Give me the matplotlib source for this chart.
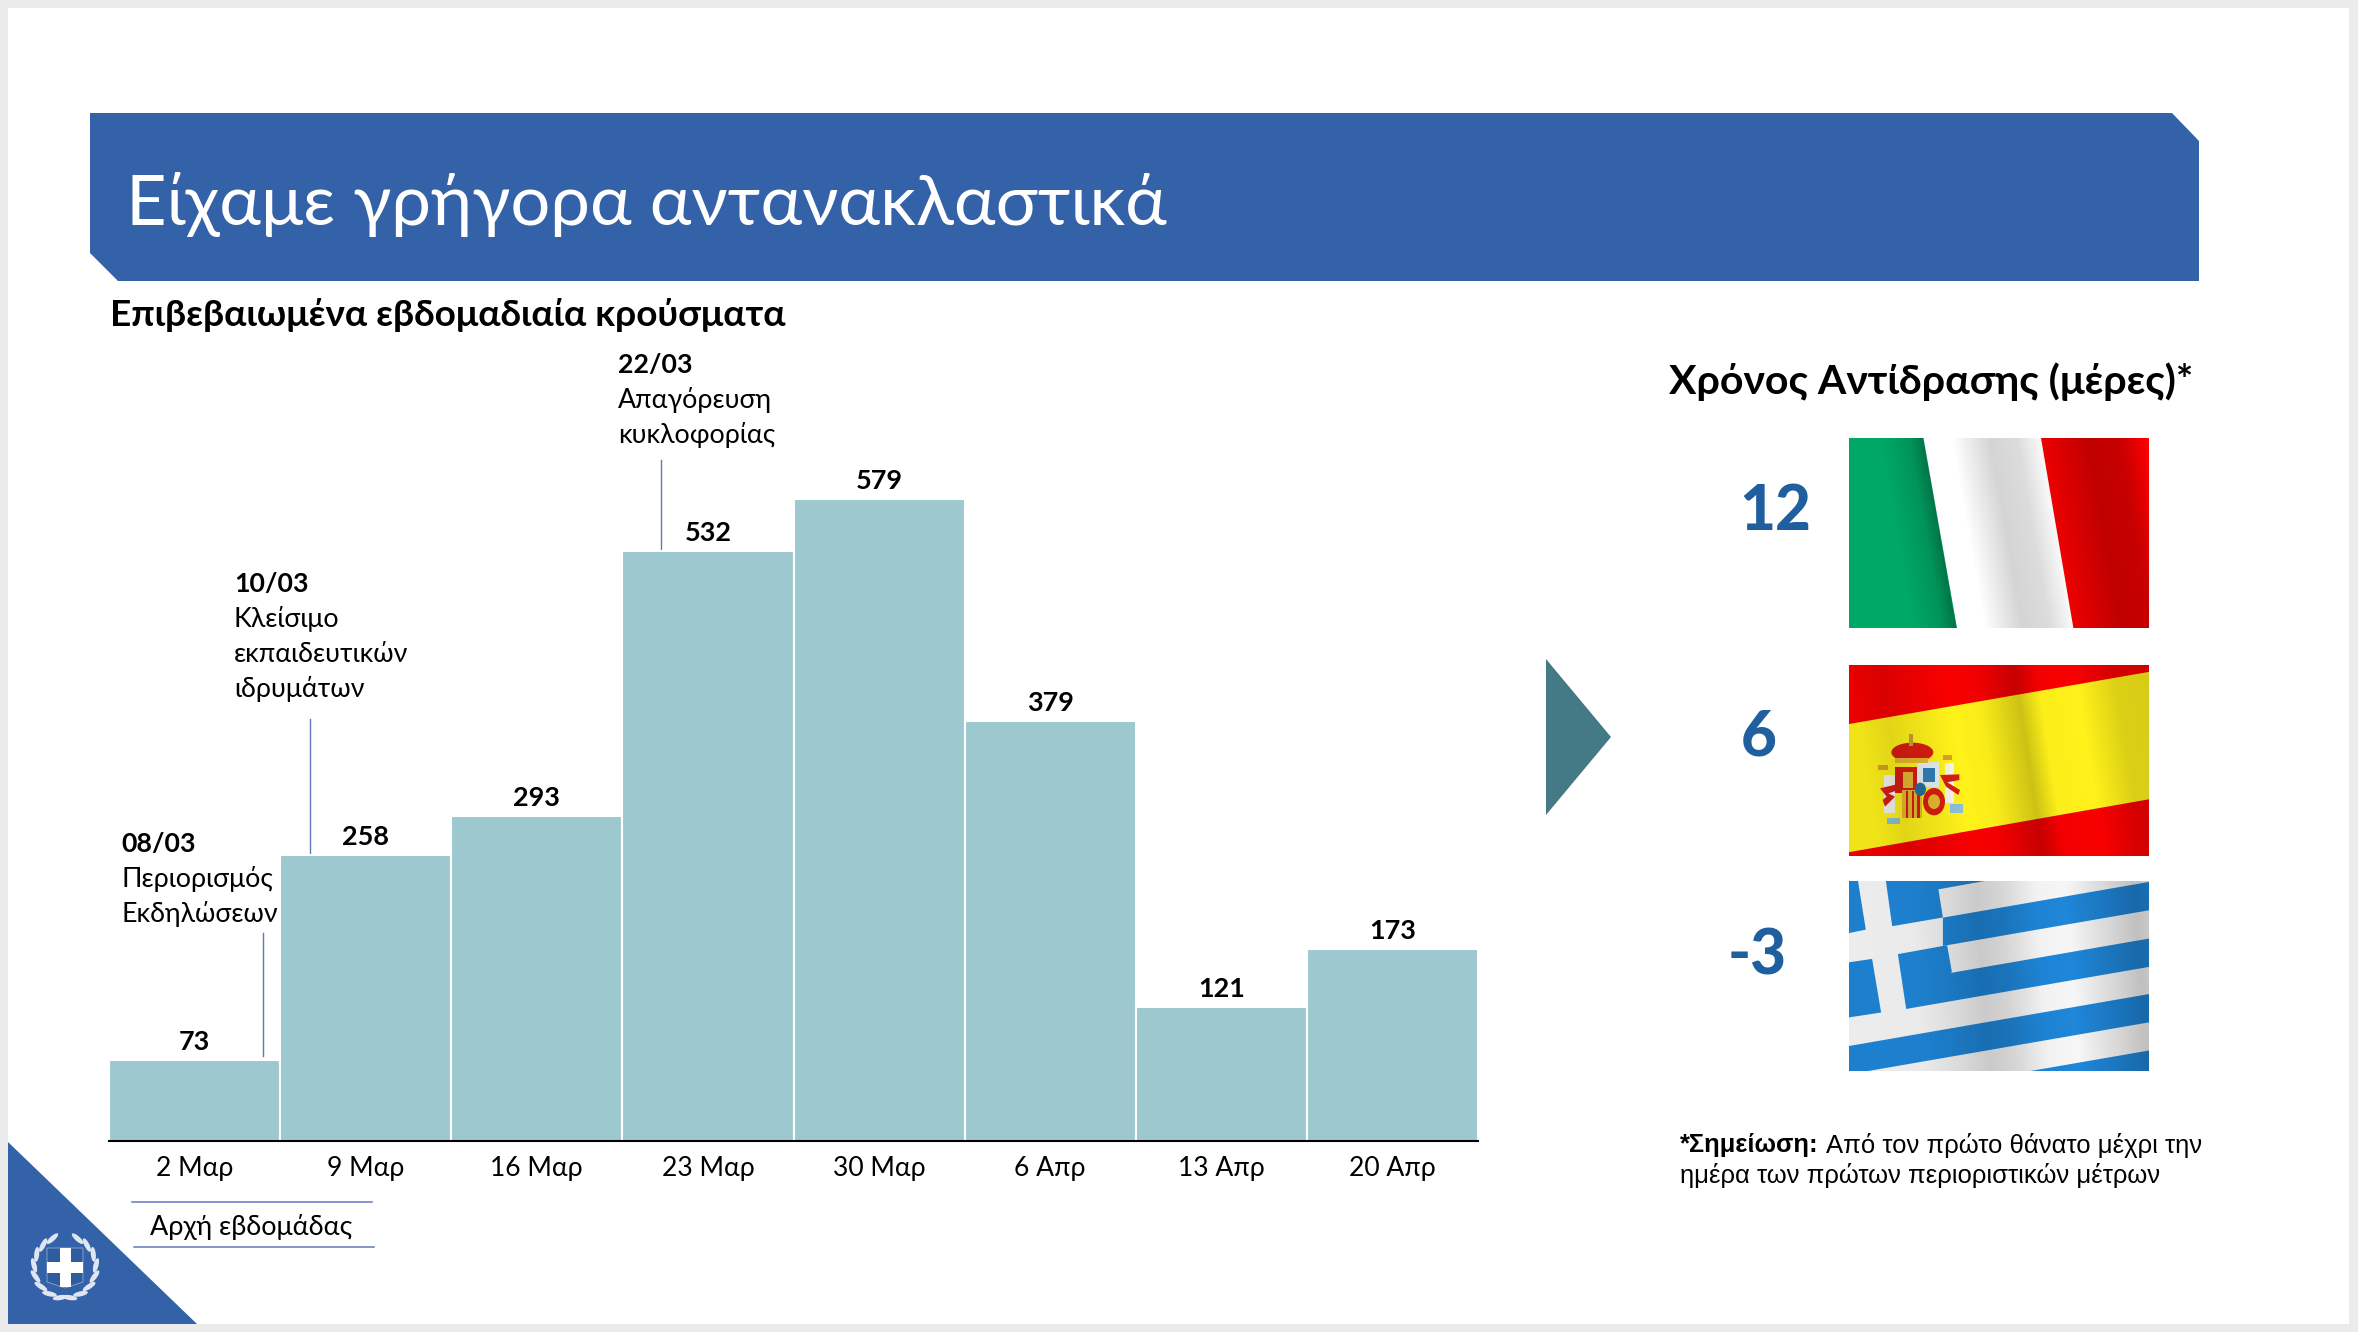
import numpy as np
import matplotlib
matplotlib.use("Agg")
import matplotlib.pyplot as plt
from matplotlib.patches import Polygon, Rectangle, Ellipse

# -----------------------------
# Data
# -----------------------------
weeks = ["2 Μαρ", "9 Μαρ", "16 Μαρ", "23 Μαρ", "30 Μαρ", "6 Απρ", "13 Απρ", "20 Απρ"]
cases = [73, 258, 293, 532, 579, 379, 121, 173]
reaction_days = ["12", "6", "-3"]

W, H = 2358, 1332
BLUE = "#3462a8"
TEAL = "#9ec8cf"
NUM_BLUE = "#1f5f9f"
LINE = "#6078bc"
FONT = "Lato"


def fs(px):
    # pixel height to points at dpi 100
    return px * 72 / 100


plt.rcParams["font.family"] = [FONT, "Noto Sans", "DejaVu Sans"]

fig = plt.figure(figsize=(W / 100, H / 100), dpi=100, facecolor="#ebebeb")

# -----------------------------
# Slide background (pixel coordinates)
# -----------------------------
bg = fig.add_axes([0, 0, 1, 1])
bg.set_xlim(0, W)
bg.set_ylim(H, 0)
bg.axis("off")
bg.add_patch(Rectangle((8, 8), 2341, 1316, fc="white", ec="none"))
bg.add_patch(Polygon([(90, 113), (2172, 113), (2199, 141), (2199, 281), (118, 281), (90, 253)],
                     fc=BLUE, ec="none"))
bg.add_patch(Polygon([(8, 1142), (197, 1324), (8, 1324)], fc=BLUE, ec="none"))
bg.add_patch(Polygon([(1546, 659), (1611, 737), (1546, 815)], fc="#447a86", ec="none"))

bg.text(126, 225, "Είχαμε γρήγορα αντανακλαστικά", color="white", fontsize=fs(70.4), va="baseline")
bg.text(110, 326, "Επιβεβαιωμένα εβδομαδιαία κρούσματα", color="black", fontsize=fs(37),
        fontweight="bold", va="baseline")

# measure annotations
notes = [
    (121, [844, 879, 914], ["08/03", "Περιορισμός", "Εκδηλώσεων"], (262.5, 933, 1056)),
    (234, [584, 619, 654, 689], ["10/03", "Κλείσιμο", "εκπαιδευτικών", "ιδρυμάτων"], (310, 719, 854)),
    (618, [365, 400, 435], ["22/03", "Απαγόρευση", "κυκλοφορίας"], (661, 460, 550)),
]
for x, ys, lines, (lx, y0, y1) in notes:
    for i, (y, s) in enumerate(zip(ys, lines)):
        bg.text(x, y, s, fontsize=fs(26.8), va="center", color="black",
                fontweight="bold" if i == 0 else "normal")
    bg.plot([lx, lx], [y0, y1], color=LINE, lw=1)

# legend-like label under the axis
bg.plot([132, 372], [1202, 1202], color=LINE, lw=1.1)
bg.plot([134, 374], [1247, 1247], color=LINE, lw=1.1)
bg.text(251, 1227, "Αρχή εβδομάδας", fontsize=fs(27), ha="center", va="center")

# right panel
bg.text(1931, 382, "Χρόνος Αντίδρασης (μέρες)*", fontsize=fs(41), fontweight="bold",
        ha="center", va="center")
for x, y, s in zip([1775, 1759, 1757], [511, 737, 956], reaction_days):
    bg.text(x, y, s, color=NUM_BLUE, fontsize=fs(62), fontweight="black", ha="center", va="center")

bg.text(1680, 1145, "*Σημείωση:", family="Liberation Sans", fontweight="bold", fontsize=fs(25.5), va="center")
bg.text(1826, 1145, "Από τον πρώτο θάνατο μέχρι την", family="Liberation Sans", fontsize=fs(25.6), va="center")
bg.text(1680, 1176, "ημέρα των πρώτων περιοριστικών μέτρων", family="Liberation Sans",
        fontsize=fs(25.6), va="center")

# emblem
cx, cy = 65, 1267
bg.add_patch(Polygon([(47, 1248), (83, 1248), (83, 1282), (65, 1288), (47, 1282)],
                     fc="#2f5c9f", ec="#8fa6cf", lw=0.6))
bg.add_patch(Rectangle((60, 1248), 11, 39, fc="white", ec="none"))
bg.add_patch(Rectangle((47, 1262), 36, 11, fc="white", ec="none"))
for side in [-1, 1]:
    for k in range(8):
        deg = -90 + side * (24 + k * 21)
        a = np.deg2rad(deg)
        bg.add_patch(Ellipse((cx + 31 * np.cos(a), cy + 31 * np.sin(a)), 15, 5,
                             angle=deg + 90 + side * 18, fc="#dfe6f2", ec="none"))

# -----------------------------
# Bar chart
# -----------------------------
ax = fig.add_axes([109 / W, (H - 1141) / H, 1369 / W, 642 / H])
ax.patch.set_alpha(0)
bars = ax.bar(range(len(cases)), cases, width=1, color=TEAL, edgecolor="white", linewidth=1.5)
ax.set_xlim(-0.5, 7.5)
ax.set_ylim(0, 579)
ax.bar_label(bars, fontweight="bold", fontsize=fs(27), padding=4.5, color="black")
ax.set_xticks(range(len(weeks)))
ax.set_xticklabels(weeks, fontsize=fs(26.5))
ax.tick_params(axis="x", length=0, pad=11)
ax.set_yticks([])
for side in ["top", "left", "right"]:
    ax.spines[side].set_visible(False)
ax.spines["bottom"].set_linewidth(1.5)


# -----------------------------
# Flags
# -----------------------------
def flag_axes(y0, y1):
    a = fig.add_axes([1849 / W, (H - y1) / H, 300 / W, (y1 - y0) / H])
    a.set_xlim(0, 1)
    a.set_ylim(1, 0)
    a.axis("off")
    return a


def shade(a, stops, levels, skew):
    # soft dark folds of the cloth
    u, v = np.meshgrid(np.linspace(0, 1, 300), np.linspace(0, 1, 190))
    rgba = np.zeros(u.shape + (4,))
    rgba[..., 3] = np.interp(u - skew * v, stops, levels)
    a.imshow(rgba, extent=(0, 1, 1, 0), aspect="auto", interpolation="bilinear", zorder=5)
    a.set_xlim(0, 1)
    a.set_ylim(1, 0)


def crest_pts(pts):
    return [((11 + x / 3) / 300, (60 + y / 3) / 191) for x, y in pts]


def crest_box(a, x0, y0, x1, y1, color):
    a.add_patch(Polygon(crest_pts([(x0, y0), (x1, y0), (x1, y1), (x0, y1)]), fc=color, ec="none"))


def crest_oval(a, x, y, w, h, color):
    (u, v), = crest_pts([(x, y)])
    a.add_patch(Ellipse((u, v), w / 900, h / 573, fc=color, ec="none"))


# Italy
it = flag_axes(438, 628)
it.add_patch(Rectangle((0, 0), 1, 1, fc="#ff0000", ec="none"))
it.add_patch(Polygon([(0, 0), (0.64, 0), (0.748, 1), (0, 1)], fc="white", ec="none"))
it.add_patch(Polygon([(0, 0), (0.248, 0), (0.36, 1), (0, 1)], fc="#00a866", ec="none"))
shade(it, [0, 0.1, 0.2, 0.245, 0.25, 0.34, 0.47, 0.56, 0.635, 0.645, 0.8, 0.9, 1.0],
      [0, 0, 0.12, 0.3, 0, 0, 0.17, 0.14, 0.03, 0.08, 0.25, 0.22, 0], 0.11)

# Spain
es = flag_axes(665, 856)
es.add_patch(Rectangle((0, 0), 1, 1, fc="#f80000", ec="none"))
es.add_patch(Polygon([(0, 0.309), (1, 0.036), (1, 0.703), (0, 0.98)], fc="#fff21a", ec="none"))
# pillars
crest_box(es, 72, 150, 105, 265, "#f4f4ee")
crest_box(es, 255, 115, 282, 235, "#f4f4ee")
crest_box(es, 55, 120, 85, 136, "#d9a520")
crest_box(es, 250, 90, 275, 105, "#d9a520")
crest_box(es, 82, 278, 120, 296, "#8fc0d8")
crest_box(es, 270, 238, 310, 264, "#8fc0d8")
es.add_patch(Polygon(crest_pts([(60, 190), (110, 178), (112, 196), (85, 205), (105, 215), (75, 245), (68, 225), (80, 215)]),
                     fc="#d81e12", ec="none"))
es.add_patch(Polygon(crest_pts([(240, 150), (298, 148), (298, 165), (262, 172), (300, 195), (295, 210), (258, 185)]),
                     fc="#d81e12", ec="none"))
# shield
crest_box(es, 105, 125, 172, 205, "#d81e12")
crest_box(es, 170, 112, 238, 185, "#e6eef2")
crest_box(es, 130, 140, 160, 188, "#e8b830")
crest_box(es, 190, 128, 225, 172, "#2f7fb8")
crest_box(es, 125, 195, 185, 280, "#e8b830")
for x0 in [137, 155, 172]:
    crest_box(es, x0, 198, x0 + 8, 280, "#d81e12")
crest_oval(es, 222, 230, 66, 82, "#d81e12")
crest_oval(es, 222, 230, 36, 44, "#e8b830")
crest_oval(es, 181, 193, 34, 40, "#2a6f9f")
# crown
crest_oval(es, 157, 82, 126, 58, "#d81e12")
crest_box(es, 105, 100, 205, 115, "#e8b830")
crest_box(es, 148, 28, 160, 62, "#c9a030")
shade(es, [0, 0.1, 0.32, 0.42, 0.55, 0.62, 0.75, 0.88, 1.0],
      [0.06, 0.12, 0, 0.03, 0.2, 0.02, 0, 0.14, 0.16], 0.1)

# Greece
gr = flag_axes(881, 1071)
gr_blue = "#1f86d8"
gr.add_patch(Rectangle((0, 0), 1, 1, fc="#f6f6f6", ec="none"))
slope = 0.2735
band = 0.149
for right_v, start_u in zip([0.005, 0.303, 0.595, 0.892], [0.313, 0.19, 0.0, 0.0]):
    top = right_v + slope * (1 - start_u)
    gr.add_patch(Polygon([(start_u, top), (1, right_v), (1, right_v + band), (start_u, top + band)],
                         fc=gr_blue, ec="none"))
for pts in [
    [(0, 0), (0.03, 0), (0.056, 0.256), (0, 0.274)],
    [(0, 0.428), (0.077, 0.41), (0.107, 0.692), (0, 0.718)],
    [(0.123, 0), (0.452, 0), (0.298, 0.044), (0.313, 0.192), (0.144, 0.238)],
    [(0.163, 0.385), (0.327, 0.338), (0.343, 0.479), (0.19, 0.667)],
]:
    gr.add_patch(Polygon(pts, fc=gr_blue, ec="none"))
shade(gr, [0, 0.2, 0.3, 0.42, 0.5, 0.62, 0.72, 0.85, 0.95, 1.0],
      [0.04, 0.05, 0.1, 0.18, 0.14, 0.02, 0.0, 0.12, 0.22, 0.18], 0.05)

fig.savefig("out.png", dpi=100, facecolor=fig.get_facecolor())
